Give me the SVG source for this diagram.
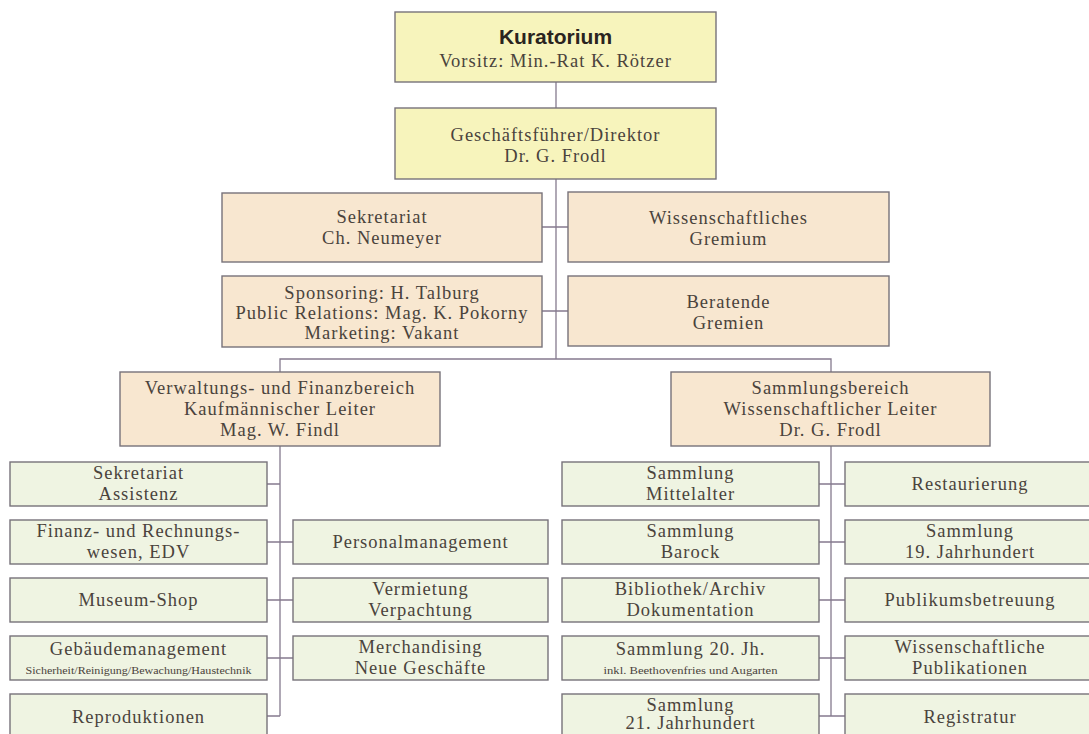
<svg xmlns="http://www.w3.org/2000/svg" width="1089" height="734" viewBox="0 0 1089 734">
<style>
.y{fill:#f7f4bc;stroke:#77727a;stroke-width:1.4}
.p{fill:#f8e7d0;stroke:#77727a;stroke-width:1.4}
.g{fill:#eff4e2;stroke:#77727a;stroke-width:1.4}
.c{fill:none;stroke:#857a8e;stroke-width:1.3}
text{font-family:"Liberation Serif","Times New Roman",serif;font-size:18.5px;fill:#4a433c;text-anchor:middle;letter-spacing:1px}
.b{font-family:"Liberation Sans",Arial,sans-serif;font-weight:bold;font-size:21px;fill:#2a2420;letter-spacing:0}
.s{font-size:11px;letter-spacing:0}
</style>
<rect width="1089" height="734" fill="#ffffff"/>
<g id="connectors">
<path class="c" d="M556 82V359"/>
<path class="c" d="M542 227H568M542 311H568"/>
<path class="c" d="M280 372V359H831V372"/>
<path class="c" d="M280 446V716M267 484H280M267 542H293M267 600H293M267 658H293M267 716H280"/>
<path class="c" d="M831 446V716M819 484H845M819 542H845M819 600H845M819 658H845M819 716H845"/>
</g>
<g id="kuratorium"><rect class="y" x="395" y="12" width="321" height="70"/><text class="b" x="555.5" y="44">Kuratorium</text><text x="555.5" y="67">Vorsitz: Min.-Rat K. Rötzer</text></g>
<g id="direktor"><rect class="y" x="395" y="108" width="321" height="71"/><text x="555.5" y="141">Geschäftsführer/Direktor</text><text x="555.5" y="162">Dr. G. Frodl</text></g>
<g id="sekretariat"><rect class="p" x="222" y="193" width="320" height="69"/><text x="382" y="223">Sekretariat</text><text x="382" y="244">Ch. Neumeyer</text></g>
<g id="wiss-gremium"><rect class="p" x="568" y="192" width="321" height="70"/><text x="728.5" y="224">Wissenschaftliches</text><text x="728.5" y="245">Gremium</text></g>
<g id="sponsoring"><rect class="p" x="222" y="276" width="320" height="71"/><text x="382" y="299">Sponsoring: H. Talburg</text><text x="382" y="319">Public Relations: Mag. K. Pokorny</text><text x="382" y="339">Marketing: Vakant</text></g>
<g id="beratende"><rect class="p" x="568" y="276" width="321" height="70"/><text x="728.5" y="308">Beratende</text><text x="728.5" y="329">Gremien</text></g>
<g id="verwaltung"><rect class="p" x="120" y="372" width="320" height="74"/><text x="280" y="394">Verwaltungs- und Finanzbereich</text><text x="280" y="415">Kaufmännischer Leiter</text><text x="280" y="436">Mag. W. Findl</text></g>
<g id="sammlungsbereich"><rect class="p" x="671" y="372" width="319" height="74"/><text x="830.5" y="394">Sammlungsbereich</text><text x="830.5" y="415">Wissenschaftlicher Leiter</text><text x="830.5" y="436">Dr. G. Frodl</text></g>
<g id="sek-assistenz"><rect class="g" x="10" y="462" width="257" height="44"/><text x="138.5" y="479">Sekretariat</text><text x="138.5" y="500">Assistenz</text></g>
<g id="finanz"><rect class="g" x="10" y="520" width="257" height="44"/><text x="138.5" y="537">Finanz- und Rechnungs-</text><text x="138.5" y="558">wesen, EDV</text></g>
<g id="shop"><rect class="g" x="10" y="578" width="257" height="44"/><text x="138.5" y="606">Museum-Shop</text></g>
<g id="gebaeude"><rect class="g" x="10" y="636" width="257" height="44"/><text x="138.5" y="655">Gebäudemanagement</text><text class="s" x="138.5" y="674" textLength="226" lengthAdjust="spacingAndGlyphs">Sicherheit/Reinigung/Bewachung/Haustechnik</text></g>
<g id="repro"><rect class="g" x="10" y="694" width="257" height="46"/><text x="138.5" y="723">Reproduktionen</text></g>
<g id="personal"><rect class="g" x="293" y="520" width="255" height="44"/><text x="420.5" y="548">Personalmanagement</text></g>
<g id="vermietung"><rect class="g" x="293" y="578" width="255" height="44"/><text x="420.5" y="595">Vermietung</text><text x="420.5" y="616">Verpachtung</text></g>
<g id="merch"><rect class="g" x="293" y="636" width="255" height="44"/><text x="420.5" y="653">Merchandising</text><text x="420.5" y="674">Neue Geschäfte</text></g>
<g id="mittelalter"><rect class="g" x="562" y="462" width="257" height="44"/><text x="690.5" y="479">Sammlung</text><text x="690.5" y="500">Mittelalter</text></g>
<g id="barock"><rect class="g" x="562" y="520" width="257" height="44"/><text x="690.5" y="537">Sammlung</text><text x="690.5" y="558">Barock</text></g>
<g id="bibliothek"><rect class="g" x="562" y="578" width="257" height="44"/><text x="690.5" y="595">Bibliothek/Archiv</text><text x="690.5" y="616">Dokumentation</text></g>
<g id="jh20"><rect class="g" x="562" y="636" width="257" height="44"/><text x="690.5" y="655">Sammlung 20. Jh.</text><text class="s" x="690.5" y="674" textLength="174" lengthAdjust="spacingAndGlyphs">inkl. Beethovenfries und Augarten</text></g>
<g id="jh21"><rect class="g" x="562" y="694" width="257" height="46"/><text x="690.5" y="711">Sammlung</text><text x="690.5" y="729">21. Jahrhundert</text></g>
<g id="restaurierung"><rect class="g" x="845" y="462" width="250" height="44"/><text x="970" y="490">Restaurierung</text></g>
<g id="jh19"><rect class="g" x="845" y="520" width="250" height="44"/><text x="970" y="537">Sammlung</text><text x="970" y="558">19. Jahrhundert</text></g>
<g id="publikum"><rect class="g" x="845" y="578" width="250" height="44"/><text x="970" y="606">Publikumsbetreuung</text></g>
<g id="publikationen"><rect class="g" x="845" y="636" width="250" height="44"/><text x="970" y="653">Wissenschaftliche</text><text x="970" y="674">Publikationen</text></g>
<g id="registratur"><rect class="g" x="845" y="694" width="250" height="46"/><text x="970" y="723">Registratur</text></g>
</svg>
